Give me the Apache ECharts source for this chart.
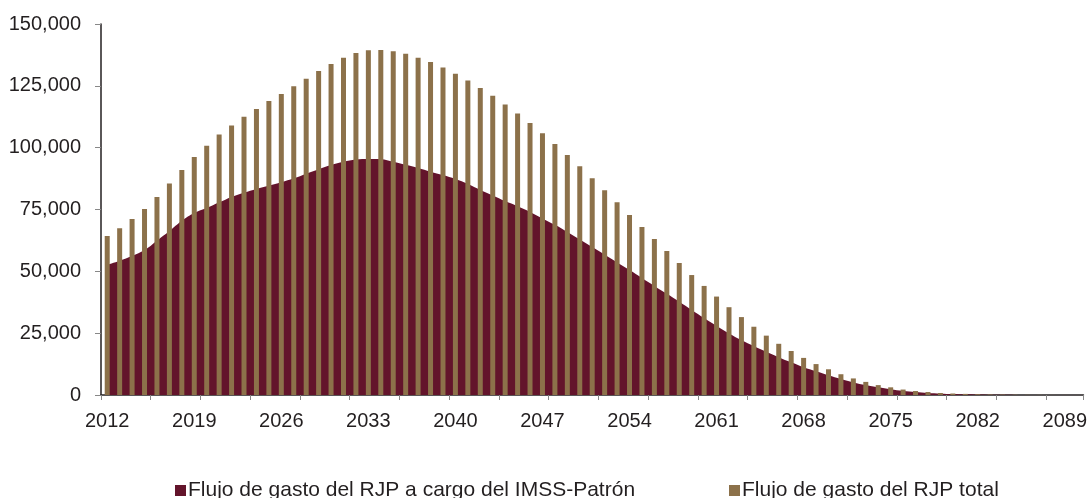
<!DOCTYPE html>
<html><head><meta charset="utf-8">
<script src="https://cdn.jsdelivr.net/npm/echarts@6/dist/echarts.min.js"></script>
<style>html,body{margin:0;padding:0;background:#fff}#c{width:1090px;height:498px}</style>
</head><body><div id="c"></div>
<script>
const years = [];
for (let y = 2012; y <= 2090; y++) years.push(String(y));

const imssPatron = [
 52.6,54.3,56.2,58.6,62.4,66.3,70.5,73.6,75.6,77.9,
 80.1,81.8,83.3,84.6,86.0,87.6,89.5,91.3,93.0,94.3,
 95.2,95.4,95.3,94.3,93.1,91.8,90.3,88.9,87.3,85.3,
 82.9,80.7,78.4,76.3,74.0,71.4,68.8,65.9,62.9,59.8,
 56.7,53.6,50.5,47.3,44.1,40.9,37.7,34.4,31.1,27.9,
 24.9,22.2,19.7,17.5,15.3,13.2,11.2,9.6,8.0,6.5,
 5.1,4.0,3.1,2.3,1.6,1.2,0.8,0.55,0.4,0.28,
 0.2,0.12,0.08,0.05,0.03,0.02,0.01,0.01,0.0
].map(v => Math.round(v * 1000));

const rjpTotal = [
 64.3,67.4,71.2,75.2,80.1,85.5,91.0,96.2,100.8,105.3,
 109.0,112.5,115.6,118.9,121.7,124.8,127.9,131.0,133.8,136.4,
 138.3,139.4,139.5,139.0,138.0,136.4,134.6,132.4,129.9,127.2,
 124.1,121.0,117.5,113.8,110.0,105.8,101.5,97.0,92.5,87.6,
 82.8,77.9,72.8,67.9,63.1,58.2,53.4,48.5,44.1,39.8,
 35.5,31.5,27.6,24.0,20.7,17.8,15.0,12.5,10.4,8.4,
 6.7,5.3,4.0,3.1,2.2,1.6,1.2,0.8,0.6,0.45,
 0.3,0.2,0.15,0.1,0.07,0.05,0.03,0.02,0.01
].map(v => Math.round(v * 1000));

const yTicks = { min: 0, max: 150000, interval: 25000 };

const chart = echarts.init(document.getElementById('c'), null, { renderer: 'canvas' });
const font = 'Liberation Sans, Arial, Helvetica, sans-serif';
const legendText = { fontFamily: font, fontSize: 21, color: '#231f20', padding: [0,0,0,-3] };
chart.setOption({
  animation: false,
  textStyle: { fontFamily: font },
  grid: { left: 101, right: 5, top: 24, bottom: 103, containLabel: false },
  legend: [
    { left: 175, top: 480, padding: 0, itemWidth: 11, itemHeight: 11, itemGap: 0,
      data: [{ name: 'Flujo de gasto del RJP a cargo del IMSS-Patrón', icon: 'rect' }],
      textStyle: legendText },
    { left: 729, top: 480, padding: 0, itemWidth: 11, itemHeight: 11, itemGap: 0,
      data: [{ name: 'Flujo de gasto del RJP total', icon: 'rect' }],
      textStyle: legendText }
  ],
  xAxis: {
    type: 'category', data: years, boundaryGap: true,
    axisLine: { show: true, lineStyle: { color: '#231f20', width: 1.5 } },
    axisTick: { show: true, interval: 3, length: 5, lineStyle: { color: '#888' } },
    axisLabel: { interval: 6, fontSize: 20, color: '#231f20', margin: 16, fontFamily: font },
    splitLine: { show: false }
  },
  yAxis: {
    type: 'value', min: yTicks.min, max: yTicks.max, interval: yTicks.interval,
    axisLine: { show: true, lineStyle: { color: '#231f20', width: 1.5 } },
    axisTick: { show: true, length: 6, lineStyle: { color: '#888' } },
    axisLabel: { fontSize: 20, color: '#231f20', margin: 20, fontFamily: font,
      formatter: v => v.toLocaleString('en-US') },
    splitLine: { show: false }
  },
  series: [
    { name: 'Flujo de gasto del RJP a cargo del IMSS-Patrón', type: 'line', data: imssPatron,
      smooth: 0.4, symbol: 'none', z: 1,
      lineStyle: { width: 0, color: '#63142b' },
      itemStyle: { color: '#63142b' },
      areaStyle: { color: '#63142b', opacity: 1 } },
    { name: 'Flujo de gasto del RJP total', type: 'bar', data: rjpTotal, barWidth: 5, z: 2,
      itemStyle: { color: '#8c714a' } }
  ]
});
</script></body></html>
